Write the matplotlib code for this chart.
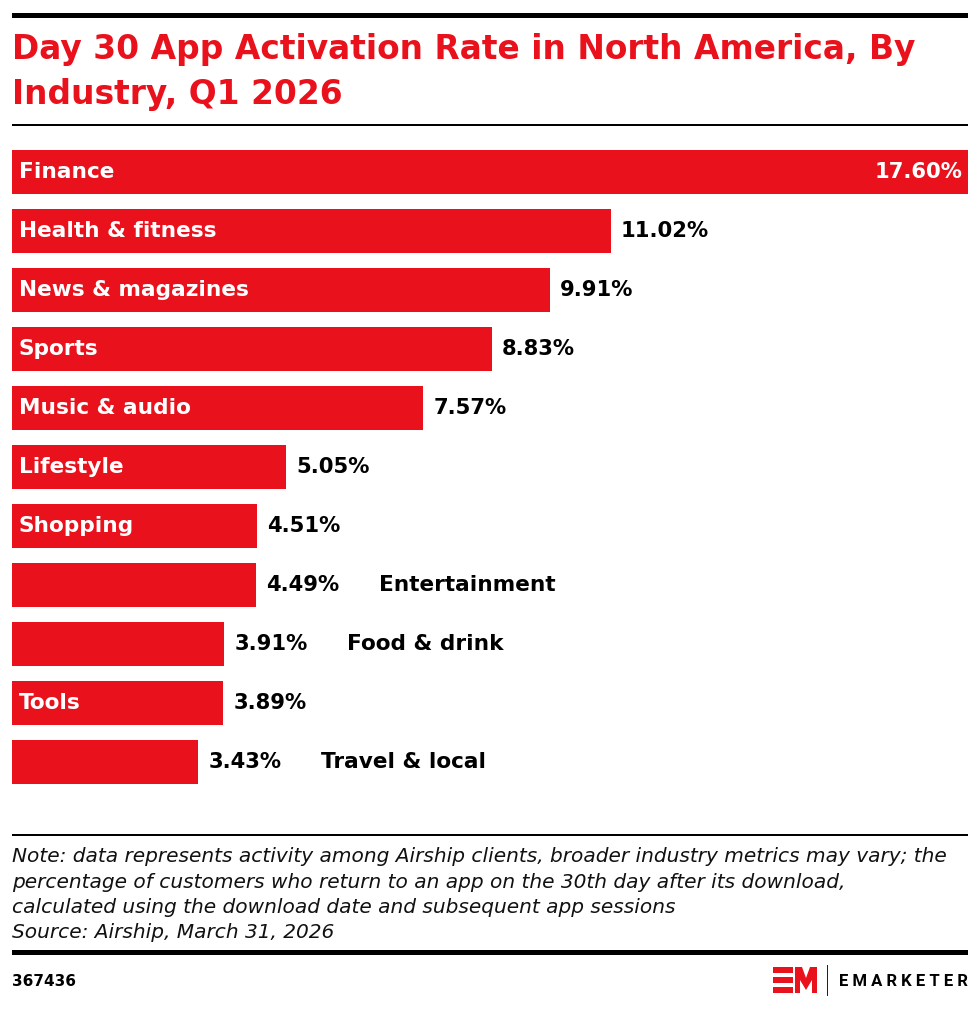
import matplotlib.pyplot as plt
from matplotlib.patches import Rectangle, Polygon

# data
industries = ['Finance', 'Health & fitness', 'News & magazines', 'Sports',
              'Music & audio', 'Lifestyle', 'Shopping', 'Entertainment',
              'Food & drink', 'Tools', 'Travel & local']
rates = [17.60, 11.02, 9.91, 8.83, 7.57, 5.05, 4.51, 4.49, 3.91, 3.89, 3.43]
# labels that do not fit inside the bar go after the value
outside = ['Entertainment', 'Food & drink', 'Travel & local']

RED = '#e8111c'
W, H = 980, 1009
FONT = ['DejaVu Sans']

fig = plt.figure(figsize=(W / 100, H / 100), dpi=100)


def fx(px):
    return px / W


def fy(py):
    return 1 - py / H


def hrule(y0, y1, color='black'):
    fig.add_artist(Rectangle((fx(12), fy(y1)), fx(956), (y1 - y0) / H,
                             color=color, lw=0, transform=fig.transFigure))


# rules
hrule(12.5, 18)
hrule(124, 126)
hrule(834, 836)
hrule(949.5, 955)

fig.text(fx(12), fy(59), 'Day 30 App Activation Rate in North America, By',
         color=RED, fontsize=23.7, fontweight='bold', family=FONT, va='baseline')
fig.text(fx(12), fy(104), 'Industry, Q1 2026',
         color=RED, fontsize=23.7, fontweight='bold', family=FONT, va='baseline')

# bars
ax = fig.add_axes([fx(12), fy(791.5), fx(956), 649 / H])
pos = list(range(len(industries)))
ax.barh(pos, rates, height=44 / 59, color=RED, edgecolor='none')
ax.set_xlim(0, rates[0])
ax.set_ylim(len(industries) - 0.5, -0.5)
ax.axis('off')

name_kw = dict(fontsize=15.6, fontweight='bold', family=FONT, va='center')
val_kw = dict(fontsize=15.2, fontweight='bold', family=FONT, va='center')
for i, (name, val) in enumerate(zip(industries, rates)):
    vtxt = f'{val:.2f}%'
    if i == 0:
        ax.annotate(vtxt, (val, i), xytext=(-6, 0), textcoords='offset pixels',
                    ha='right', color='white', **val_kw)
    else:
        ax.annotate(vtxt, (val, i), xytext=(10, 0), textcoords='offset pixels',
                    ha='left', color='black', **val_kw)
    if name in outside:
        ax.annotate(name, (val, i), xytext=(123, 0), textcoords='offset pixels',
                    ha='left', color='black', **name_kw)
    else:
        ax.annotate(name, (0, i), xytext=(7, 0), textcoords='offset pixels',
                    ha='left', color='white', **name_kw)

# note and source
notes = ['Note: data represents activity among Airship clients, broader industry metrics may vary; the',
         'percentage of customers who return to an app on the 30th day after its download,',
         'calculated using the download date and subsequent app sessions',
         'Source: Airship, March 31, 2026']
for k, line in enumerate(notes):
    fig.text(fx(12), fy(862 + 25.5 * k), line, fontsize=14.5, style='italic',
             family=FONT, color='#111111', va='baseline')

fig.text(fx(12), fy(982), '367436', fontsize=11, fontweight='bold',
         family=FONT, va='center')

# logo: E made of three bars, then M
for y0, y1 in [(967, 973), (976.5, 982.5), (987, 993)]:
    fig.add_artist(Rectangle((fx(773), fy(y1)), fx(20), (y1 - y0) / H,
                             color=RED, lw=0, transform=fig.transFigure))
m_pts = [(795, 993), (795, 967), (802, 967), (806, 978), (810, 967),
         (817, 967), (817, 993), (812, 993), (812, 980), (806, 990),
         (800, 980), (800, 993)]
fig.add_artist(Polygon([(fx(x), fy(y)) for x, y in m_pts], closed=True,
                       color=RED, lw=0, transform=fig.transFigure))
fig.add_artist(Rectangle((fx(826.5), fy(996)), fx(1.2), 31 / H,
                         color='#222222', lw=0, transform=fig.transFigure))
fig.text(fx(968), fy(981.5), 'E M A R K E T E R', fontsize=12,
         fontweight='bold', family=['Roboto', 'DejaVu Sans'], ha='right', va='center')

fig.savefig('out.png', dpi=100)
